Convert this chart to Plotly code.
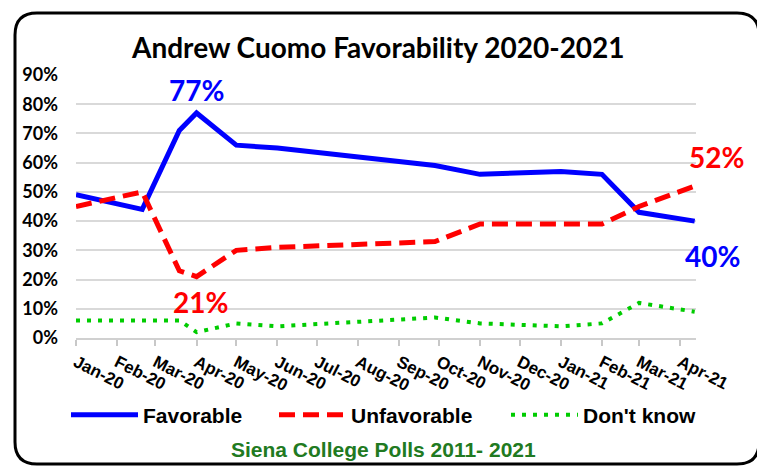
import plotly.graph_objects as go

# ---- data ----
poll_dates = ["2020-01-01", "2020-02-20", "2020-03-19", "2020-04-01", "2020-05-01",
              "2020-06-01", "2020-09-28", "2020-11-01", "2021-01-01", "2021-02-01",
              "2021-03-01", "2021-04-12"]
favorable = [49, 44, 71, 77, 66, 65, 59, 56, 57, 56, 43, 40]
unfavorable = [45, 50, 23, 21, 30, 31, 33, 39, 39, 39, 45, 52]
dont_know = [6, 6, 6, 2, 5, 4, 7, 5, 4, 5, 12, 9]
y_ticks = [0, 10, 20, 30, 40, 50, 60, 70, 80, 90]
y_labels = [f"<b>{v}%</b>" for v in y_ticks]

BLUE = "#0000ff"
RED = "#ff0000"
GREEN = "#00cc00"

fig = go.Figure()
fig.add_trace(go.Scatter(x=poll_dates, y=favorable, name="<b>Favorable</b>", mode="lines",
                         line=dict(color=BLUE, width=5), legend="legend"))
fig.add_trace(go.Scatter(x=poll_dates, y=unfavorable, name="<b>Unfavorable</b>", mode="lines",
                         line=dict(color=RED, width=5, dash="16px,8px"), legend="legend2"))
fig.add_trace(go.Scatter(x=poll_dates, y=dont_know, name="<b>Don't know</b>", mode="lines",
                         line=dict(color=GREEN, width=4, dash="4px,7px"), legend="legend3"))

# page has an 8px body margin; screen plot area is 76..696 px, 338..75 px
OFF = 8
W, H = 765 - OFF, 470 - OFF
pw, ph, x0p, y0p = 620.0, 263.0, 76.0, 338.0
def px(v): return (v - x0p) / pw
def py(v): return (y0p - v) / ph

# value call-outs
ann = dict(showarrow=False, xanchor="center", yanchor="middle")
ann_font = dict(family="Lato", size=28)
fig.add_annotation(x=poll_dates[favorable.index(max(favorable))], y=max(favorable) + 7.7,
                   text=f"<b>{max(favorable)}%</b>", font=dict(color=BLUE, **ann_font), **ann)
fig.add_annotation(x="2020-04-04", y=min(unfavorable) - 8.6,
                   text=f"<b>{min(unfavorable)}%</b>", font=dict(color=RED, **ann_font), **ann)
fig.add_annotation(xref="paper", x=px(716), y=unfavorable[-1] + 10,
                   text=f"<b>{unfavorable[-1]}%</b>", font=dict(color=RED, **ann_font), **ann)
fig.add_annotation(xref="paper", x=px(712), y=favorable[-1] - 12,
                   text=f"<b>{favorable[-1]}%</b>", font=dict(color=BLUE, **ann_font), **ann)

# title and source
fig.add_annotation(xref="paper", yref="paper", x=px(378), y=py(47),
                   text="<b>Andrew Cuomo Favorability 2020-2021</b>",
                   font=dict(family="Lato", size=28, color="black"), **ann)
fig.add_annotation(xref="paper", yref="paper", x=px(383), y=py(449),
                   text="<b>Siena College Polls 2011- 2021</b>",
                   font=dict(family="Liberation Sans", size=21, color="#217a21"), **ann)

# rounded frame
L, R, T, B = 15, 759, 13, 464
r = 22
path = (f"M{px(L + r)},{py(T)} L{px(R - r)},{py(T)} Q{px(R)},{py(T)} {px(R)},{py(T + r)} "
        f"L{px(R)},{py(B - r)} Q{px(R)},{py(B)} {px(R - r)},{py(B)} "
        f"L{px(L + r)},{py(B)} Q{px(L)},{py(B)} {px(L)},{py(B - r)} "
        f"L{px(L)},{py(T + r)} Q{px(L)},{py(T)} {px(L + r)},{py(T)} Z")
fig.add_shape(type="path", xref="paper", yref="paper", path=path,
              line=dict(color="black", width=3), layer="above")

leg_common = dict(orientation="h", yanchor="middle", y=py(415), xanchor="left",
                  font=dict(family="Liberation Sans", size=21, color="black"),
                  itemwidth=67, bgcolor="rgba(0,0,0,0)", borderwidth=0)

fig.update_layout(
    width=W, height=H,
    margin=dict(l=x0p - OFF, r=W - (696 - OFF), t=75 - OFF, b=H - (y0p - OFF), autoexpand=False),
    paper_bgcolor="white", plot_bgcolor="white",
    showlegend=True,
    legend=dict(x=px(66), **leg_common),
    legend2=dict(x=px(274), **leg_common),
    legend3=dict(x=px(506), **leg_common),
    xaxis=dict(type="date", range=["2020-01-01", "2021-04-13"],
               tick0="2020-01-01", dtick="M1", tickformat="<b>%b-%y</b>",
               tickangle=27, showgrid=False, showline=True, linecolor="#d0d0d0", linewidth=2,
               ticks="outside", ticklen=6, tickwidth=2, tickcolor="#c8c8c8",
               tickfont=dict(family="Liberation Sans", size=17, color="black"),
               automargin=False, fixedrange=True),
    yaxis=dict(range=[0, 90], tickvals=y_ticks, ticktext=y_labels,
               showgrid=True, gridcolor="#d9d9d9", gridwidth=2, zeroline=False,
               showline=False, ticks="", ticklabelstandoff=17,
               tickfont=dict(family="Lato", size=18, color="black"),
               automargin=False, fixedrange=True),
)

fig.write_html("out.html")
